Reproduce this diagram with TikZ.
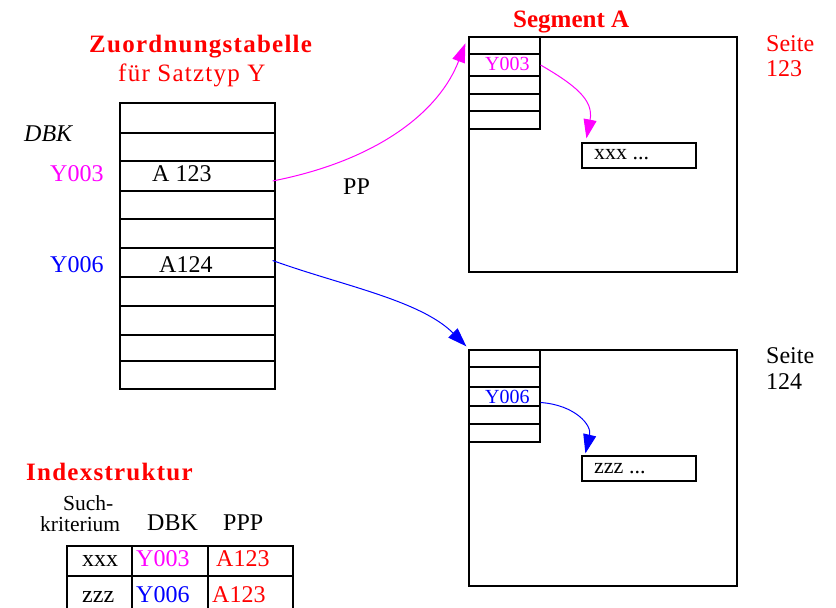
\documentclass[tikz,border=0pt]{standalone}
\usepackage{fontspec}
\setmainfont{Liberation Serif}
\usetikzlibrary{arrows.meta}
\definecolor{mag}{RGB}{255,0,255}
\definecolor{blu}{RGB}{0,0,255}
\definecolor{rd}{RGB}{255,0,0}

\begin{document}
\begin{tikzpicture}[x=1bp,y=-1bp,
  cell/.style={draw=black, line width=1.2bp, inner sep=0pt},
  lbl/.style={inner sep=0pt, anchor=base west, font=\fontsize{24bp}{28bp}\selectfont},
  mid/.style={inner sep=0pt, anchor=base west, font=\fontsize{22bp}{26bp}\selectfont},
  sml/.style={inner sep=0pt, anchor=base west, font=\fontsize{20bp}{24bp}\selectfont},
  head/.style={inner sep=0pt, anchor=base west, text=rd,
    font=\fontsize{25bp}{30bp}\selectfont\bfseries\addfontfeatures{LetterSpace=5}},
  sub/.style={inner sep=0pt, anchor=base west, text=rd,
    font=\fontsize{25bp}{30bp}\selectfont\addfontfeatures{LetterSpace=5}},
  link/.style={line width=1bp, -{Triangle[length=19bp,width=13bp]}},
]
\useasboundingbox (0,0) rectangle (836,608);
\clip (0,0) rectangle (836,608);

% ---- Zuordnungstabelle ----
\node[head] (ttl) at (89,53) {Zuordnungstabelle};
\node[sub] (ttl2) at (118,82) {für Satztyp Y};
\foreach \t/\b/\n in {103/133/z1,133/161/z2,161/191/z3,191/219/z4,219/248/z5,
                      248/277/z6,277/306/z7,306/335/z8,335/361/z9,361/389/z10}{
  \pgfmathsetmacro\h{\b-\t}
  \pgfmathsetmacro\c{(\t+\b)/2}
  \node[cell, minimum width=155bp, minimum height=\h bp] (\n) at (197.5,\c) {};
}
\node[lbl, font=\fontsize{24bp}{28bp}\selectfont\itshape] (dbk) at (24,142) {DBK};
\node[lbl, text=mag] (k1) at (50,182) {Y003};
\node[lbl, text=blu] (k2) at (50,272) {Y006};
\node[lbl] (v1) at (152,182) {A 123};
\node[lbl] (v2) at (159,272) {A124};
\node[lbl] (pp) at (343,195) {PP};

% ---- Seite 123 ----
\node[head, font=\fontsize{25bp}{30bp}\selectfont\bfseries] (seg) at (513,28) {Segment A};
\node[cell, line width=1.3bp, minimum width=268bp, minimum height=235bp] (pageA) at (603,154.5) {};
\foreach \t/\b/\n in {37/54/a1,54/76/a2,76/94/a3,94/111/a4,111/129/a5}{
  \pgfmathsetmacro\h{\b-\t}
  \pgfmathsetmacro\c{(\t+\b)/2}
  \node[cell, minimum width=71bp, minimum height=\h bp] (\n) at (504.5,\c) {};
}
\node[sml, text=mag] (ya) at (485,71) {Y003};
\node[cell, minimum width=114bp, minimum height=25bp] (recA) at (639,155.5) {};
\node[mid] (xa) at (594,160) {xxx ...};
\node[lbl, text=rd] (sa1) at (766,52) {Seite};
\node[lbl, text=rd] (sa2) at (766,77) {123};

% ---- Seite 124 ----
\node[cell, line width=1.3bp, minimum width=268bp, minimum height=236bp] (pageB) at (603,468) {};
\foreach \t/\b/\n in {350/367/b1,367/387/b2,387/406/b3,406/424/b4,424/442/b5}{
  \pgfmathsetmacro\h{\b-\t}
  \pgfmathsetmacro\c{(\t+\b)/2}
  \node[cell, minimum width=71bp, minimum height=\h bp] (\n) at (504.5,\c) {};
}
\node[sml, text=blu] (yb) at (485,403) {Y006};
\node[cell, minimum width=114bp, minimum height=25bp] (recB) at (639,468.5) {};
\node[mid] (xb) at (594,473) {zzz ...};
\node[lbl] (sb1) at (766,363) {Seite};
\node[lbl] (sb2) at (766,389) {124};

% ---- connectors ----
\draw[link, draw=mag] ([shift={(-3,5)}]z3.east)
  .. controls (380,160) and (440,110) .. ([shift={(-3,7)}]pageA.north west);
\draw[link, draw=blu] ([shift={(-3,-2)}]z6.east)
  .. controls (340,285) and (420,300) .. ([shift={(-2,-3)}]pageB.north west);
\draw[link, draw=mag] (a2.east)
  .. controls (575,85) and (594,100) .. ([shift={(5,-4)}]recA.north west);
\draw[link, draw=blu] ([shift={(0,6)}]b3.east)
  .. controls (575,405) and (592,425) .. ([shift={(4,-2)}]recB.north west);

% ---- Indexstruktur ----
\node[head] (ix) at (26,480) {Indexstruktur};
\node[sml, font=\fontsize{21.5bp}{24bp}\selectfont] (h1) at (63,510) {Such-};
\node[sml, font=\fontsize{21.5bp}{24bp}\selectfont] (h2) at (40,531) {kriterium};
\node[lbl] (h3) at (147,530) {DBK};
\node[lbl] (h4) at (223,530) {PPP};
\node[cell, minimum width=65bp, minimum height=30bp] (c11) at (99.5,561) {};
\node[cell, minimum width=76bp, minimum height=30bp] (c12) at (170,561) {};
\node[cell, minimum width=85bp, minimum height=30bp] (c13) at (250.5,561) {};
\node[cell, minimum width=65bp, minimum height=36bp] (c21) at (99.5,594) {};
\node[cell, minimum width=76bp, minimum height=36bp] (c22) at (170,594) {};
\node[cell, minimum width=85bp, minimum height=36bp] (c23) at (250.5,594) {};
\node[lbl] (t11) at (82,566) {xxx};
\node[lbl, text=mag] (t12) at (136,566) {Y003};
\node[lbl, text=rd] (t13) at (216,566) {A123};
\node[lbl] (t21) at (82,602) {zzz};
\node[lbl, text=blu] (t22) at (136,602) {Y006};
\node[lbl, text=rd] (t23) at (212,602) {A123};
\end{tikzpicture}
\end{document}
